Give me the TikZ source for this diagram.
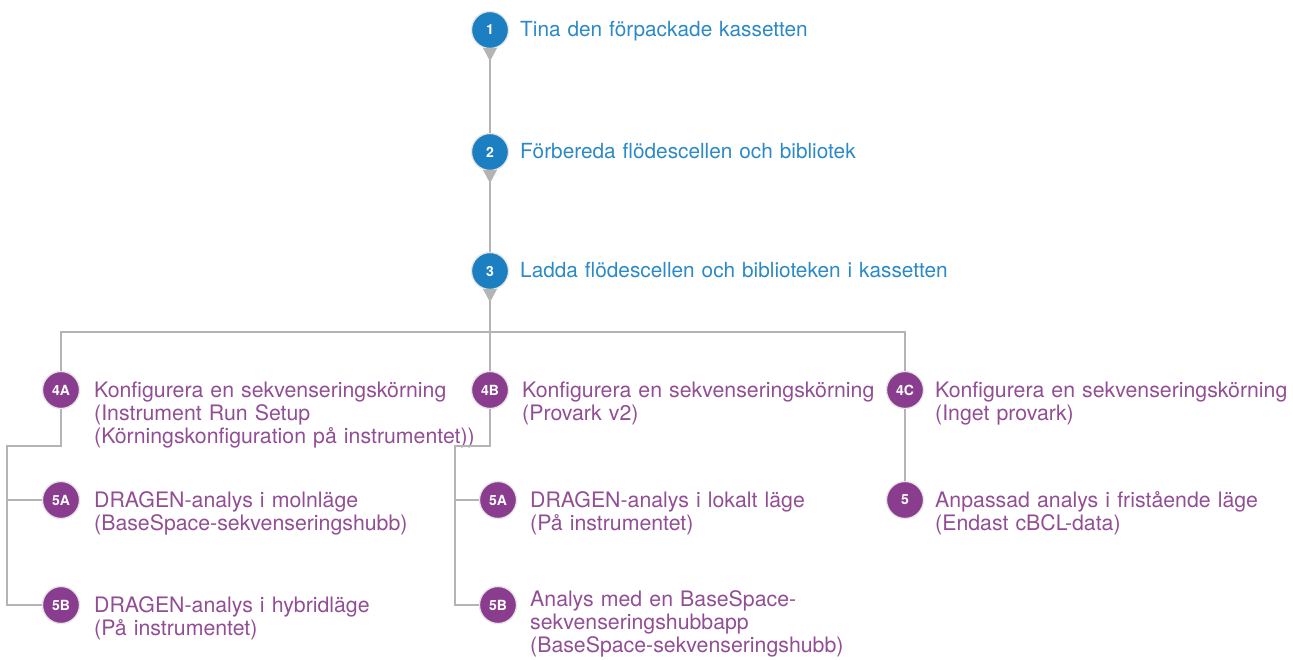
\documentclass[tikz,border=0pt]{standalone}
\usepackage{fontspec}
\setmainfont{TeX Gyre Heros}
\definecolor{stepblue}{HTML}{1B7FC1}
\definecolor{textblue}{HTML}{2A89C6}
\definecolor{steppurple}{HTML}{8A3D8F}
\definecolor{textpurple}{HTML}{924E95}
\definecolor{linegray}{HTML}{B4B4B4}
\tikzset{
  stepdot/.style={circle,minimum size=37pt,inner sep=0pt,draw=black!10,line width=1.3pt,
    text=white,font=\fontsize{14}{14}\selectfont\bfseries},
  bluedot/.style={stepdot,fill=stepblue},
  purpledot/.style={stepdot,fill=steppurple},
  steptext/.style={anchor=base west,inner sep=0pt,text width=480pt,align=left},
  bluetext/.style={steptext,text=textblue,font=\fontsize{20.8}{23.4}\selectfont},
  purpletext/.style={steptext,text=textpurple,font=\fontsize{21.3}{23.4}\selectfont},
  conn/.style={draw=linegray,line width=2pt},
  pointer/.style={fill=linegray}
}

\begin{document}
\begin{tikzpicture}[x=1pt,y=-1pt]
    \useasboundingbox (0,0) rectangle (1293,660);
    % blue steps
    \node[bluedot] (c1) at (490,30) {1};
    \node[bluedot] (c2) at (490,152) {2};
    \node[bluedot] (c3) at (490,271) {3};
    \node[bluetext] (t1) at ([shift={(30,7)}]c1.center) {Tina den förpackade kassetten};
    \node[bluetext] (t2) at ([shift={(30,7)}]c2.center) {Förbereda flödescellen och bibliotek};
    \node[bluetext] (t3) at ([shift={(30,7)}]c3.center) {Ladda flödescellen och biblioteken i kassetten};
    % purple steps
    \node[purpledot] (c4A) at (61,390) {4A};
    \node[purpledot] (c4B) at (490,390) {4B};
    \node[purpledot] (c4C) at (905,390) {4C};
    \node[purpledot] (c5Aleft) at (61,500) {5A};
    \node[purpledot] (c5Bleft) at (61,605) {5B};
    \node[purpledot] (c5Amid) at (498,500) {5A};
    \node[purpledot] (c5Bmid) at (498,605) {5B};
    \node[purpledot] (c5) at (905,500) {5};
    \node[purpletext] (t4A) at ([shift={(33,7)}]c4A.center) {Konfigurera en sekvenseringskörning\\(Instrument Run Setup\\(Körningskonfiguration på instrumentet))};
    \node[purpletext] (t4B) at ([shift={(32,7)}]c4B.center) {Konfigurera en sekvenseringskörning\\(Provark v2)};
    \node[purpletext] (t4C) at ([shift={(30,7)}]c4C.center) {Konfigurera en sekvenseringskörning\\(Inget provark)};
    \node[purpletext] (t5Aleft) at ([shift={(33,7)}]c5Aleft.center) {DRAGEN-analys i molnläge\\(BaseSpace-sekvenseringshubb)};
    \node[purpletext] (t5Bleft) at ([shift={(33,7)}]c5Bleft.center) {DRAGEN-analys i hybridläge\\(På instrumentet)};
    \node[purpletext] (t5Amid) at ([shift={(32,7)}]c5Amid.center) {DRAGEN-analys i lokalt läge\\(På instrumentet)};
    \node[purpletext] (t5Bmid) at ([shift={(32,1)}]c5Bmid.center) {Analys med en BaseSpace-\\sekvenseringshubbapp\\(BaseSpace-sekvenseringshubb)};
    \node[purpletext] (t5) at ([shift={(30,7)}]c5.center) {Anpassad analys i fristående läge\\(Endast cBCL-data)};
    % connectors
    \coordinate (split) at (490,332);
    \coordinate (bendleft) at (7,446);
    \coordinate (bendmid) at (455,446);
    \draw[conn] (c1) -- (c2);
    \draw[conn] (c2) -- (c3);
    \draw[conn] (c3) -- (c4B);
    \draw[conn] (c4A.north) |- (split) -| (c4C.north);
    \draw[conn] (c4A.south) |- (bendleft) |- (c5Bleft.west);
    \draw[conn] (bendleft |- c5Aleft) -- (c5Aleft.west);
    \draw[conn] (c4B.south) |- (bendmid) |- (c5Bmid.west);
    \draw[conn] (bendmid |- c5Amid) -- (c5Amid.west);
    \draw[conn] (c4C) -- (c5);
    % pointers under the blue steps
    \foreach \c in {c1,c2,c3}
        \fill[pointer] ([xshift=-7pt,yshift=1pt]\c.south) -- ([xshift=7pt,yshift=1pt]\c.south) -- ([yshift=-12pt]\c.south) -- cycle;
\end{tikzpicture}
\end{document}
